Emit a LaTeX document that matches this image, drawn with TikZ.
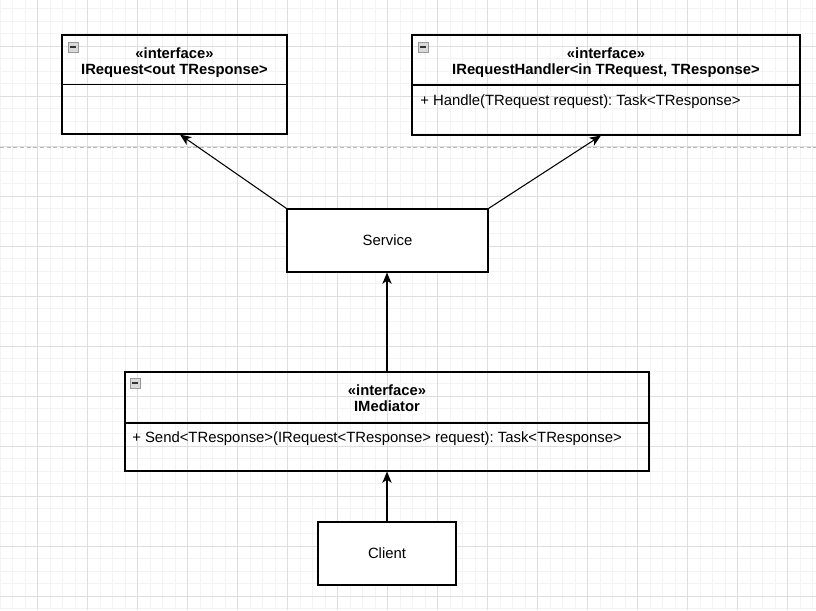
\documentclass[tikz,border=0pt]{standalone}
\usepackage{fontspec}
\setmainfont{Liberation Sans}
\usetikzlibrary{positioning}
\usetikzlibrary{calc}
\usetikzlibrary{arrows.meta}
\definecolor{gridminor}{RGB}{243,243,243}
\definecolor{gridmajor}{RGB}{222,222,222}
\definecolor{pagebreak}{RGB}{185,185,185}
\newcommand{\pix}{0.75pt}
\frenchspacing

\begin{document}
\begin{tikzpicture}[x=0.75pt, y=-0.75pt,
    box/.style={draw, line width=0.8pt, rectangle, inner sep=0pt},
    plainbox/.style={box, fill=white},
    umltext/.style={font=\fontsize{11.15}{12.2}\selectfont, inner sep=0pt},
    stereo/.style={inner sep=0pt, font=\fontsize{11.1}{12.2}\selectfont\bfseries, align=center},
    dep/.style={line width=0.8pt, -{Stealth[length=8.5pt, width=7pt, inset=2.4pt]}},
    collapse/.style={draw=gray!80, fill=gray!30, line width=0.5pt}]
    \useasboundingbox (0,0) rectangle (816,610);
    \fill[white] (0,0) rectangle (816,610);

    % background grid
    \foreach \x in {0,12.5,...,816} \draw[gridminor, line width=0.6pt] (\x,0) -- (\x,610);
    \foreach \y in {8.5,21,...,610} \draw[gridminor, line width=0.6pt] (0,\y) -- (816,\y);
    \foreach \x in {37.5,87.5,...,816} \draw[gridmajor, line width=0.6pt] (\x,0) -- (\x,610);
    \foreach \y in {46,96,...,610} \draw[gridmajor, line width=0.6pt] (0,\y) -- (816,\y);
    \draw[pagebreak, dash pattern=on 3pt off 2pt, line width=0.75pt] (0,147) -- (816,147);

    % interfaces
    \node[box, minimum width=225*\pix, minimum height=99*\pix] (irequest) at (174.5,84.5) {};
    \draw[line width=0.8pt] (irequest.west |- 0,84.5) -- (irequest.east |- 0,84.5);
    \node[stereo] (irequesthead) at (174.5,62.5) {«interface»\\IRequest<out TResponse>};

    \node[box, minimum width=388*\pix, minimum height=100*\pix] (handler) at (606,85) {};
    \draw[line width=0.8pt] (handler.west |- 0,85) -- (handler.east |- 0,85);
    \node[stereo] (handlerhead) at (606,62.5) {«interface»\\IRequestHandler<in TRequest, TResponse>};
    \node[umltext, anchor=west] (handle) at (420,101.7) {+ Handle(TRequest request): Task<TResponse>};

    \node[box, minimum width=524*\pix, minimum height=99*\pix] (mediator) at (387,421.5) {};
    \draw[line width=0.8pt] (mediator.west |- 0,423) -- (mediator.east |- 0,423);
    \node[stereo] (mediatorhead) at (387,398.5) {«interface»\\IMediator};
    \node[umltext, anchor=west] (send) at (132,438.3) {+ Send<TResponse>(IRequest<TResponse> request): Task<TResponse>};

    \foreach \cx/\cy in {68/42, 418/42, 130/378} {
        \draw[collapse] (\cx,\cy) rectangle ++(10,10);
        \draw[line width=0.8pt, black!80] (\cx+2,\cy+5) -- (\cx+8,\cy+5);
    }

    % classes
    \node[plainbox, umltext, minimum width=201*\pix, minimum height=63*\pix] (service) at (387.5,240.5) {Service};
    \node[plainbox, umltext, minimum width=138*\pix, minimum height=63*\pix] (client) at (387,553.5) {Client};

    \draw[dep] (service.north west) -- ($(irequest.south west)!0.524!(irequest.south east)$);
    \draw[dep] (service.north east) -- ($(handler.south west)!0.487!(handler.south east)$);
    \draw[dep] (mediator.north) -- (mediator.north |- service.south);
    \draw[dep] (client.north) -- (client.north |- mediator.south);
\end{tikzpicture}
\end{document}
